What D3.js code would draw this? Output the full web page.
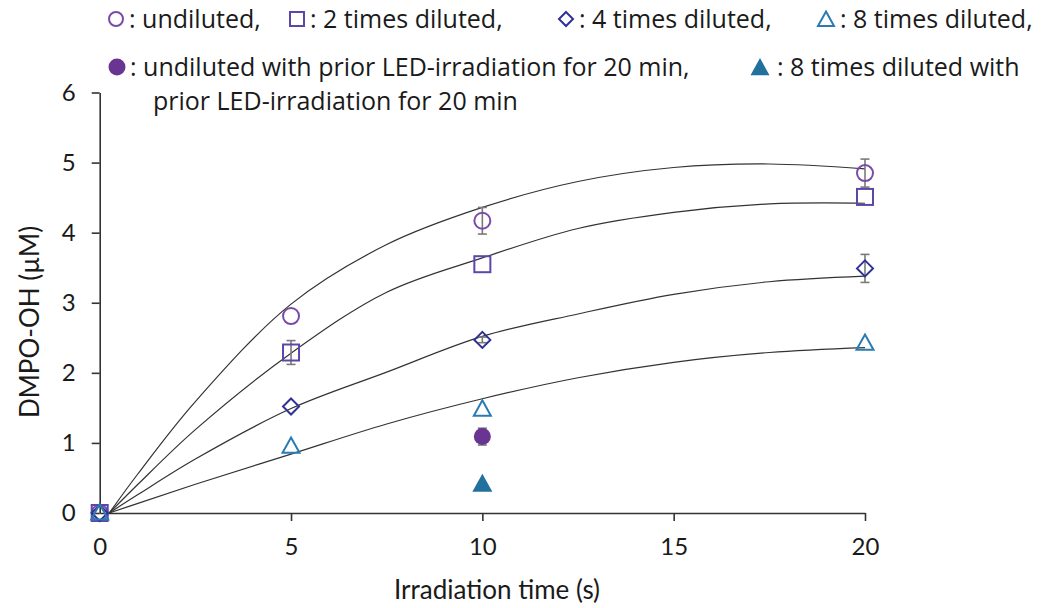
<!DOCTYPE html>
<html><head><meta charset="utf-8">
<script src="https://cdn.jsdelivr.net/npm/d3@7"></script>
<style>body{margin:0;background:#fff}svg{display:block}</style>
</head><body>
<svg id="c" width="1042" height="608"></svg>
<script>
// ---- data ----
const xTicks = [0, 5, 10, 15, 20];
const yTicks = [0, 1, 2, 3, 4, 5, 6];
const times = [0, 5, 10, 20];
const undiluted = [0, 2.81, 4.17, 4.85];
const undilutedErr = [0, 0, 0.19, 0.2];
const diluted2 = [0, 2.29, 3.55, 4.51];
const diluted2Err = [0, 0.17, 0, 0];
const diluted4 = [0, 1.52, 2.47, 3.49];
const diluted4Err = [0, 0, 0.04, 0.2];
const diluted8 = [0, 0.95, 1.48, 2.42];
const diluted8Err = [0, 0, 0, 0];
const ledTime = [10];
const undilutedLED = [1.09];
const undilutedLEDErr = [0.12];
const diluted8LED = [0.41];
// fitted curves
const fitX = [0.25, 1, 2.5, 5, 7.5, 10, 12.5, 15, 17.5, 20];
const fitUndiluted = [0, 0.56, 1.59, 2.98, 3.83, 4.36, 4.73, 4.93, 4.98, 4.91];
const fit2 = [0, 0.41, 1.19, 2.28, 3.15, 3.64, 4.06, 4.29, 4.41, 4.42];
const fit4 = [0, 0.263, 0.77, 1.49, 2.01, 2.52, 2.84, 3.12, 3.30, 3.38];
const fit8 = [0, 0.138, 0.41, 0.84, 1.27, 1.63, 1.93, 2.15, 2.29, 2.36];

const svg = d3.select('#c');
const x = d3.scaleLinear().domain([0, 20]).range([99.7, 865]);
const y = d3.scaleLinear().domain([0, 6]).range([513, 92.5]);
const axisFont = 'Lato, "Open Sans", sans-serif';
const legFont = '"Open Sans", "Noto Sans", sans-serif';

// curves
const line = d3.line().x(d => x(d[0])).y(d => y(d[1])).curve(d3.curveCatmullRom.alpha(0.5));
[fitUndiluted, fit2, fit4, fit8].forEach(f => {
  svg.append('path').attr('d', line(fitX.map((t, i) => [t, f[i]])))
    .attr('fill', 'none').attr('stroke', '#333').attr('stroke-width', 1.2);
});

// axes
const gx = svg.append('g').attr('transform', `translate(0,${y(0)})`)
  .call(d3.axisBottom(x).tickValues(xTicks).tickSize(8).tickSizeOuter(0).tickPadding(17).tickFormat(d3.format('d')));
const gy = svg.append('g').attr('transform', `translate(${x(0)},0)`)
  .call(d3.axisLeft(y).tickValues(yTicks).tickSize(8).tickSizeOuter(0).tickPadding(16).tickFormat(d3.format('d')));
gx.selectAll('.tick').filter(d => d === 0).select('line').remove();
[gx, gy].forEach(g => {
  g.select('.domain').attr('stroke', '#333').attr('stroke-width', 1.6);
  g.selectAll('.tick line').attr('stroke', '#333').attr('stroke-width', 1.6);
  g.selectAll('.tick text').attr('fill', '#1a1a1a').style('font-family', axisFont).style('font-size', '24px');
});

svg.append('text').attr('x', 497).attr('y', 599).attr('text-anchor', 'middle')
  .style('font-family', axisFont).style('font-size', '26px').attr('fill', '#1a1a1a')
  .text('Irradiation time (s)');
svg.append('text').attr('transform', `translate(39,322) rotate(-90)`).attr('text-anchor', 'middle')
  .style('font-family', axisFont).style('font-size', '26px').attr('fill', '#1a1a1a')
  .text('DMPO-OH (µM)');

// error bars
const errColor = '#7a7a7a';
function errBars(vals, errs, xs) {
  vals.forEach((v, i) => {
    const e = errs[i];
    if (!e) return;
    const cx = x(xs[i]);
    const g = svg.append('g').attr('stroke', errColor).attr('stroke-width', 1.6);
    g.append('line').attr('x1', cx).attr('x2', cx).attr('y1', y(v - e)).attr('y2', y(v + e));
    g.append('line').attr('x1', cx - 4.5).attr('x2', cx + 4.5).attr('y1', y(v - e)).attr('y2', y(v - e));
    g.append('line').attr('x1', cx - 4.5).attr('x2', cx + 4.5).attr('y1', y(v + e)).attr('y2', y(v + e));
  });
}
errBars(undiluted, undilutedErr, times);
errBars(diluted2, diluted2Err, times);
errBars(diluted4, diluted4Err, times);
errBars(diluted8, diluted8Err, times);
errBars(undilutedLED, undilutedLEDErr, ledTime);

// markers
const cCircle = '#7a4aa8', cSquare = '#5c47a8', cDiamond = '#2f3196', cTri = '#2a7cb0';
const cFillCircle = '#6a3592', cFillTri = '#21709e';
function marker(g, type, cx, cy, color, filled, s) {
  let el;
  if (type === 'circle') el = g.append('circle').attr('cx', cx).attr('cy', cy).attr('r', s);
  else if (type === 'square') el = g.append('rect').attr('x', cx - s).attr('y', cy - s).attr('width', 2 * s).attr('height', 2 * s);
  else if (type === 'diamond') el = g.append('path').attr('d', `M${cx},${cy - s}L${cx + s},${cy}L${cx},${cy + s}L${cx - s},${cy}Z`);
  else if (type === 'triangle') el = g.append('path').attr('d', `M${cx},${cy - s * 1.05}L${cx + s},${cy + s * 0.75}L${cx - s},${cy + s * 0.75}Z`);
  el.attr('fill', filled ? color : 'none').attr('stroke', color).attr('stroke-width', filled ? 0 : 2);
}
const series = [
  {v: undiluted, t: 'circle', c: cCircle, s: 8},
  {v: diluted2, t: 'square', c: cSquare, s: 8},
  {v: diluted4, t: 'diamond', c: cDiamond, s: 8},
  {v: diluted8, t: 'triangle', c: cTri, s: 8.5},
];
const mg = svg.append('g');
series.forEach(sr => sr.v.forEach((v, i) => marker(mg, sr.t, x(times[i]), y(v), sr.c, false, sr.s)));
undilutedLED.forEach((v, i) => marker(mg, 'circle', x(ledTime[i]), y(v), cFillCircle, true, 8.5));
diluted8LED.forEach((v, i) => marker(mg, 'triangle', x(ledTime[i]), y(v), cFillTri, true, 10));

// legend
const lg = svg.append('g').style('font-family', legFont).style('font-size', '25px').attr('fill', '#1a1a1a');
const row1 = 19, row2 = 67, row3 = 101, base = 9;
marker(lg, 'circle', 116, row1, cCircle, false, 7);
lg.append('text').attr('x', 129).attr('y', row1 + base).text(': undiluted,');
marker(lg, 'square', 297, row1, cSquare, false, 7);
lg.append('text').attr('x', 310).attr('y', row1 + base).text(': 2 times diluted,');
marker(lg, 'diamond', 566, row1, cDiamond, false, 7);
lg.append('text').attr('x', 579).attr('y', row1 + base).text(': 4 times diluted,');
marker(lg, 'triangle', 826, row1 + 1, cTri, false, 8);
lg.append('text').attr('x', 840).attr('y', row1 + base).text(': 8 times diluted,');
marker(lg, 'circle', 117, row2, cFillCircle, true, 8.5);
lg.append('text').attr('x', 130).attr('y', row2 + base).text(': undiluted with prior LED-irradiation for 20 min,');
marker(lg, 'triangle', 760, row2 + 1, cFillTri, true, 9.5);
lg.append('text').attr('x', 777).attr('y', row2 + base).text(': 8 times diluted with');
lg.append('text').attr('x', 153).attr('y', row3 + base).text('prior LED-irradiation for 20 min');
</script>
</body></html>
